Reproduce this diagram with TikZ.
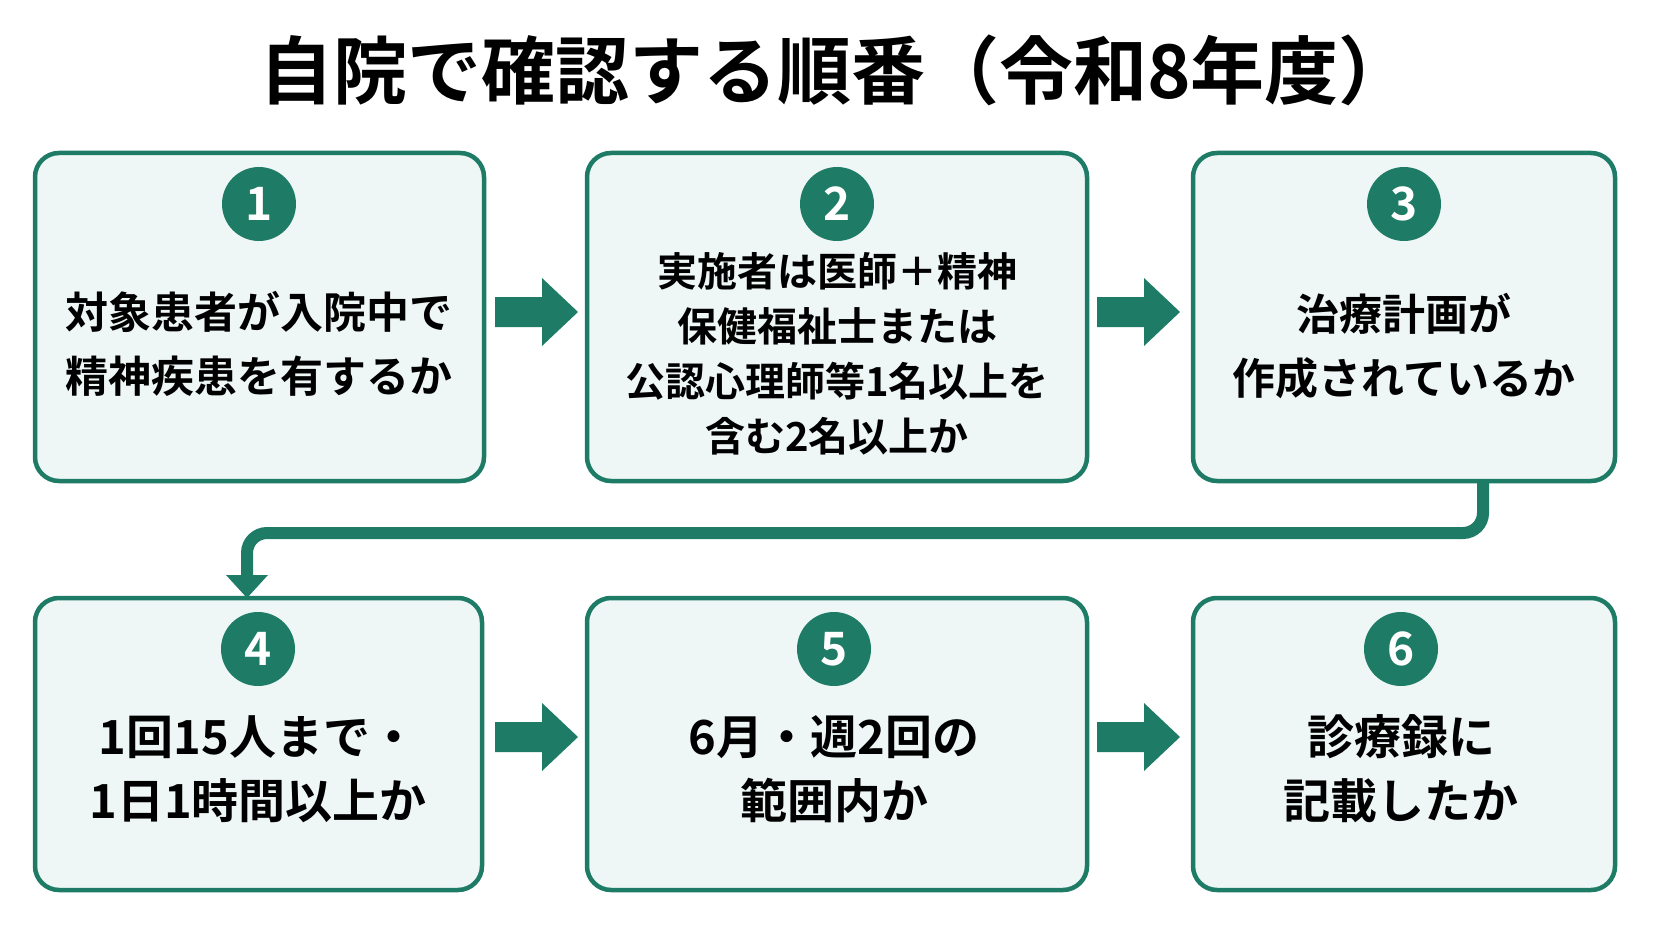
\documentclass[tikz,border=0pt]{standalone}
\usepackage{fontspec}
\setmainfont{Noto Sans CJK JP}[BoldFont={Noto Sans CJK JP Bold}]
\usetikzlibrary{arrows.meta}
\definecolor{g}{HTML}{1E7B66}
\definecolor{bf}{HTML}{EEF7F6}
\begin{document}
\begin{tikzpicture}[x=1pt,y=-1pt,
 box/.style={draw=g,fill=bf,line width=4.5pt,rounded corners=24pt},
 num/.style={circle,fill=g,text=white,minimum size=74pt,inner sep=0pt,font=\fontsize{46}{46}\selectfont\bfseries},
 t1/.style={align=center,font=\fontsize{43}{64}\selectfont\bfseries},
 t2/.style={align=center,font=\fontsize{40}{55}\selectfont\bfseries},
 t3/.style={align=center,font=\fontsize{47}{64}\selectfont\bfseries}]
\useasboundingbox (0,0) rectangle (1672,941);
\fill[white] (0,0) rectangle (1672,941);
\node[font=\fontsize{74}{74}\selectfont\bfseries] (title) at (836,70) {自院で確認する順番（令和8年度）};
% boxes
\draw[box] (35,153) rectangle (484,481);
\draw[box] (587,153) rectangle (1087,481);
\draw[box] (1193,153) rectangle (1615,481);
\draw[box] (35,598) rectangle (482,890);
\draw[box] (587,598) rectangle (1087,890);
\draw[box] (1193,598) rectangle (1615,890);
\node[num] (n1) at (259,204) {1};
\node[num] (n2) at (837,204) {2};
\node[num] (n3) at (1404,204) {3};
\node[num] (n4) at (258,649) {4};
\node[num] (n5) at (834,649) {5};
\node[num] (n6) at (1401,649) {6};
\node[t1] (x1) at (259,344) {対象患者が入院中で\\精神疾患を有するか};
\node[t2] (x2) at (837,354) {実施者は医師＋精神\\保健福祉士または\\公認心理師等1名以上を\\含む2名以上か};
\node[t1] (x3) at (1404,346) {治療計画が\\作成されているか};
\node[t3] (x4) at (258,769) {1回15人まで・\\1日1時間以上か};
\node[t3] (x5) at (834,769) {6月・週2回の\\範囲内か};
\node[t3] (x6) at (1401,769) {診療録に\\記載したか};
% block arrows
\foreach \x/\y in {537/312,1139/312,537/737,1139/737}{
 \fill[g] (\x-42,\y-15) -- (\x+5,\y-15) -- (\x+5,\y-34) -- (\x+41,\y) -- (\x+5,\y+34) -- (\x+5,\y+15) -- (\x-42,\y+15) -- cycle;
}
\coordinate (c1) at (1483,481);
\draw[g,line width=12pt,rounded corners=20pt] (c1) -- (1483,533) -- (247,533) -- (247,578);
\fill[g] (226,575) -- (268,575) -- (247,598) -- cycle;
\end{tikzpicture}
\end{document}
